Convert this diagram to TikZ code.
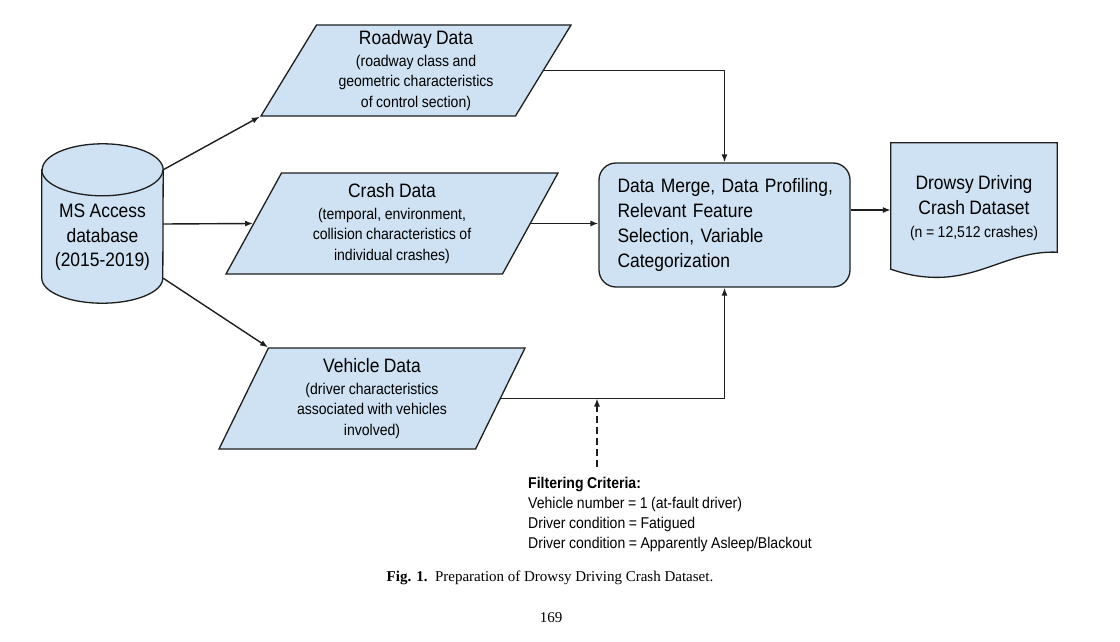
\documentclass[tikz,border=0pt]{standalone}
\usepackage{fontspec}
\setmainfont{Liberation Sans}[FakeStretch=0.9, WordSpace=0.9]
\newfontfamily\capserif{Liberation Serif}
\usetikzlibrary{shapes.geometric,arrows.meta}
\definecolor{boxblue}{RGB}{207,226,243}
\definecolor{edge}{RGB}{30,30,30}
\newcommand{\boxtitle}[1]{{\fontsize{19.4}{22}\selectfont #1}}

\begin{document}
\begin{tikzpicture}[x=1pt,y=-1pt,
    inputdata/.style={trapezium, trapezium stretches body, draw=edge, fill=boxblue,
      line width=1.3pt, inner sep=1pt, align=center, font=\fontsize{15.6}{20.5}\selectfont},
    flow/.style={draw=edge, line width=1.4pt, -{Latex[length=8pt,width=6pt]}},
    outline/.style={draw=edge, fill=boxblue, line width=1.3pt}]
    \path[fill=white, use as bounding box] (0,0) rectangle (1120,642);

    % database cylinder
    \node[minimum width=121, minimum height=108, inner sep=0] (db) at (102.5,224) {};
    \draw[outline] (db.north west) -- (db.south west)
      arc[start angle=180, end angle=0, x radius=60.5, y radius=25] -- (db.north east)
      arc[start angle=0, end angle=-180, x radius=60.5, y radius=26] -- cycle;
    \draw[draw=edge, line width=1.3pt] (db.north west) arc[start angle=180, end angle=0, x radius=60.5, y radius=26];
    \node[align=center, font=\fontsize{19.4}{24.5}\selectfont] (dbtext) at ([yshift=-13.5pt]db.center) {MS Access\\database\\(2015-2019)};

    % input data
    \node[inputdata, trapezium left angle=56, trapezium right angle=124, minimum width=310, minimum height=91] (roadway) at (416,70.5)
      {\boxtitle{Roadway Data}\\[1.5pt](roadway class and\\geometric characteristics\\of control section)};
    \node[inputdata, trapezium left angle=56, trapezium right angle=124, minimum width=332, minimum height=101] (crash) at (392,223.5)
      {\boxtitle{Crash Data}\\[1.5pt](temporal, environment,\\collision characteristics of\\individual crashes)};
    \node[inputdata, trapezium left angle=59, trapezium right angle=121, minimum width=306, minimum height=101] (vehicle) at (372,398.5)
      {\boxtitle{Vehicle Data}\\[1.5pt](driver characteristics\\associated with vehicles\\involved)};

    % processing and output
    \node[outline, rounded corners=17pt, minimum width=251, minimum height=124, text width=214, inner xsep=18.5pt,
      align=left, font=\fontsize{19.4}{24.7}\selectfont] (merge) at (724.5,225)
      {\mbox{Data Merge, Data Profiling,}\\Relevant Feature\\Selection, Variable\\Categorization};
    \node[minimum width=166, minimum height=134, inner sep=0] (doc) at (974,210) {};
    \draw[outline] (doc.north west) -- (doc.north east) -- ([yshift=25pt]doc.south east)
      .. controls ([xshift=-47pt,yshift=27pt]doc.south east) and ([xshift=89pt,yshift=-3pt]doc.south west) .. ([xshift=39pt]doc.south west)
      .. controls ([xshift=21pt,yshift=1pt]doc.south west) and ([xshift=9pt,yshift=5pt]doc.south west) .. ([yshift=8pt]doc.south west)
      -- cycle;
    \node[align=center, font=\fontsize{19.4}{25}\selectfont] (doctext) at ([yshift=2pt]doc.center)
      {Drowsy Driving\\Crash Dataset\\[-2pt]{\fontsize{15.6}{20}\selectfont (n = 12,512 crashes)}};

    % filter
    \node[anchor=north west, align=left, inner xsep=0pt, inner ysep=10pt, font=\fontsize{15.6}{20}\selectfont] (filter) at (528,467)
      {\textbf{Filtering Criteria:}\\Vehicle number = 1 (at-fault driver)\\Driver condition = Fatigued\\Driver condition = Apparently Asleep/Blackout};

    % connectors
    \draw[flow] (db.north east) -- (roadway.bottom left corner);
    \draw[flow] (db.east) -- (crash.west);
    \draw[flow] (db.south east) -- (vehicle.top left corner);
    \draw[flow] (roadway.east) -| (merge.north);
    \draw[flow] (crash.east) -- (crash.east -| merge.west);
    \draw[flow] (vehicle.east) -| (merge.south);
    \draw[flow] ([yshift=15pt]merge.east) -- ([yshift=15pt]merge.east -| doc.west);
    \path (vehicle.east) ++(96,0) coordinate (tap);
    \draw[flow, line width=1.2pt, dash pattern=on 7pt off 4pt] (tap |- filter.north) -- (tap);

    % caption
    \node[font=\capserif\fontsize{15}{18}\selectfont] (caption) at (550,578) {\textbf{Fig. 1.}\enspace Preparation of Drowsy Driving Crash Dataset.};
    \node[font=\capserif\fontsize{15}{18}\selectfont] (pageno) at (551,618) {169};
\end{tikzpicture}
\end{document}
